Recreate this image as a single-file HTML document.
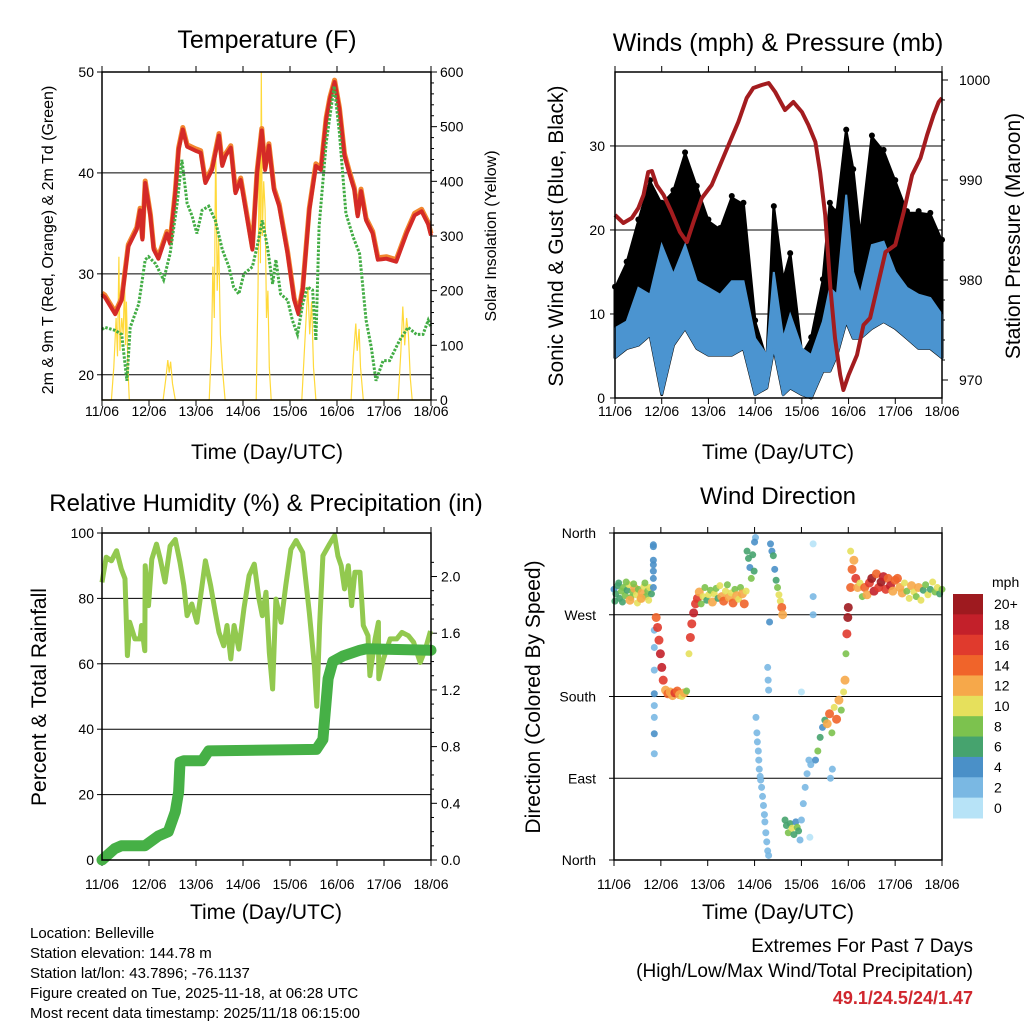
<!DOCTYPE html>
<html><head><meta charset="utf-8"><style>
body{margin:0;background:#fff;}
svg{display:block;font-family:"Liberation Sans",Arial,sans-serif;}
</style></head><body>
<svg id="c" width="1024" height="1024" viewBox="0 0 1024 1024" xmlns="http://www.w3.org/2000/svg">
<rect width="1024" height="1024" fill="#fff"/>
<g id="g1"></g>
<g id="g2"></g>
<g id="g3"></g>
<g id="g4"></g>
<g id="gt" font-size="15" fill="#000">
<text x="30" y="938">Location: Belleville</text>
<text x="30" y="958">Station elevation: 144.78 m</text>
<text x="30" y="978">Station lat/lon: 43.7896; -76.1137</text>
<text x="30" y="998">Figure created on Tue, 2025-11-18, at 06:28 UTC</text>
<text x="30" y="1018">Most recent data timestamp: 2025/11/18 06:15:00</text>
<text x="973" y="952" text-anchor="end" font-size="19">Extremes For Past 7 Days</text>
<text x="973" y="977" text-anchor="end" font-size="19">(High/Low/Max Wind/Total Precipitation)</text>
<text x="973" y="1004" text-anchor="end" font-size="18" font-weight="bold" fill="#d0272e">49.1/24.5/24/1.47</text>
</g>
</svg>
<script>
// ---- data (time in days since 11/06 00 UTC) ----
const dayLabels=["11/06","12/06","13/06","14/06","15/06","16/06","17/06","18/06"];
const tempT=[0,.06,.28,.42,.56,.74,.81,.86,.92,1.03,1.10,1.20,1.38,1.45,1.56,1.63,1.72,1.81,1.99,2.1,2.2,2.34,2.49,2.56,2.63,2.74,2.84,2.95,3.06,3.2,3.3,3.4,3.47,3.55,3.66,3.77,3.95,4.09,4.18,4.27,4.41,4.55,4.66,4.77,4.85,4.95,5.05,5.16,5.26,5.37,5.44,5.51,5.62,5.76,5.87,6.05,6.26,6.48,6.65,6.8,6.94,7.0];
const tempV=[27.9,27.7,26.0,27.4,32.7,34.4,36.3,33.4,39.0,35.7,32.4,31.5,34,33,38,42.3,44.3,42.6,42.2,42,39,40.3,43.7,40.7,41.7,42.5,38,39.3,36.3,32.4,40,44.2,40.3,42.7,38.3,36.7,32,27.4,26,28.4,36.3,40.7,40.3,45.3,47.3,49,46.3,41.7,40,38.3,35.7,38.2,35.3,34,31.4,31.5,31.2,34,35.8,36.2,34.9,33.8];
const dewT=[0,.06,.28,.42,.53,.6,.78,.92,.99,1.14,1.31,1.45,1.6,1.7,1.81,1.92,2.02,2.13,2.27,2.41,2.56,2.7,2.8,2.91,3.02,3.2,3.3,3.41,3.52,3.63,3.7,3.8,3.95,4.05,4.16,4.27,4.37,4.48,4.55,4.62,4.77,4.94,5.05,5.19,5.34,5.48,5.62,5.73,5.83,5.98,6.12,6.33,6.51,6.69,6.83,6.94,7.0];
const dewV=[24.5,24.7,24.4,24,19.4,24.7,27,31.4,31.7,31,29.4,32,37,41.3,37,35.7,34,36.3,36.7,35.3,32.4,30.7,28.7,28,30,30.7,32.7,35.3,32.7,29,31.4,28,27.4,25.4,24,27,28.7,28.4,23.4,34.7,43,48.6,44,36,33.7,32,25.4,22.7,19.4,21.4,21.4,23.4,24.7,24,24,25.4,24.7];
const solarT=[0,.2,.25,.3,.33,.36,.38,.42,.45,.48,.5,.52,.55,.58,1.3,1.36,1.4,1.43,1.46,1.5,1.56,2.28,2.33,2.36,2.39,2.42,2.45,2.48,2.52,2.56,2.62,3.28,3.32,3.35,3.37,3.39,3.41,3.44,3.47,3.5,3.53,3.56,3.6,4.25,4.3,4.35,4.38,4.42,4.46,4.5,4.55,5.3,5.35,5.4,5.43,5.47,5.5,5.56,6.3,6.36,6.4,6.44,6.48,6.52,6.56,6.6,7];
const solarV=[0,0,60,150,80,262,90,150,120,220,100,180,60,0,0,40,73,50,70,30,0,0,100,244,150,476,200,300,120,60,0,0,200,488,250,600,300,400,348,150,200,60,0,0,80,160,207,120,180,60,0,0,80,140,90,130,60,0,0,90,171,100,150,120,40,0,0];
const presT=[0,.18,.36,.5,.61,.71,.79,.89,1.04,1.21,1.39,1.54,1.68,1.86,2.07,2.25,2.43,2.64,2.82,2.96,3.14,3.29,3.43,3.64,3.82,4.0,4.14,4.29,4.39,4.5,4.61,4.71,4.82,4.89,5.0,5.18,5.32,5.46,5.61,5.79,6.0,6.18,6.36,6.54,6.68,6.82,6.93,7.0];
const presV=[986.5,985.7,986.2,987.2,988.5,990.8,990.9,989.5,988.5,986.8,984.8,983.8,985.8,988.2,989.5,991.5,993.5,995.8,998.2,999.2,999.5,999.7,998.8,997,997.8,996.8,995.5,993.8,990.8,986.5,979.2,974.2,970.5,969,970.5,972.5,975.5,976.2,979.2,982.8,983.5,986.8,990.5,992.2,994.5,996.5,997.8,998.2];
const windT=[0,.25,.5,.75,1.0,1.25,1.5,1.75,2.0,2.25,2.5,2.75,3.0,3.25,3.4,3.6,3.75,4.0,4.2,4.45,4.6,4.75,4.95,5.1,5.25,5.5,5.75,6.0,6.25,6.5,6.75,7.0];
const windLo=[4.8,5.9,6.3,7.5,0.4,6.3,8.3,5.9,5.1,5.1,5.1,5.9,0.4,1.2,5.9,0.4,1.2,0.4,0,3.2,3.2,5.1,9.1,7.1,7.1,8.3,9.1,8.3,7.1,5.9,5.9,4.8];
const windHi=[8.3,9.1,13.1,12.3,18.2,14.7,18.2,13.9,13.1,12.3,13.9,13.9,7.1,5.1,15,7.1,9.9,5.9,5.1,9.1,13.1,12.3,24.2,15,12.3,18.2,18.6,15,13.1,12.3,11.9,9.9];
const gustHi=[13,16,21,25.7,23,24.5,29,25,21,20,23.8,23,9,4.4,22.6,13.9,17,5.1,7,13.9,23,22,31.7,27,19,31,29.3,25.7,22,22,21.8,18.6];
const rhT=[0,.09,.2,.31,.41,.49,.54,.59,.7,.81,.84,.91,.92,.99,1.06,1.16,1.24,1.34,1.45,1.56,1.66,1.74,1.81,1.91,2.02,2.09,2.2,2.31,2.41,2.49,2.59,2.66,2.74,2.81,2.91,3.02,3.13,3.24,3.34,3.41,3.49,3.56,3.63,3.7,3.81,3.91,4.02,4.13,4.27,4.41,4.52,4.57,4.63,4.7,4.84,4.95,5.02,5.09,5.16,5.24,5.31,5.38,5.49,5.56,5.66,5.7,5.81,5.88,5.89,5.99,6.13,6.27,6.38,6.52,6.63,6.77,6.88,6.99];
const rhV=[84.9,92.6,91.5,94.6,89,86,62.5,72.7,67.6,67.6,71.7,64,90,77.8,92,96.6,92,85,96,98,91,84,74.7,78.3,72.7,79.8,91.5,84,75.7,69.6,65.5,71.7,61.5,71.7,64.5,76.8,87,90.5,79.8,74.7,81.9,63.5,52.3,79.8,72.7,84,95,97.7,94,75.7,59.4,47,71.7,93,96.6,99.2,93,90,82.9,90,77.8,88,88,71.7,68.6,56.4,67.6,72.7,55.4,61.5,67.6,67.6,69.6,68.6,66.6,60.4,64.5,70];
const rainT=[0,.27,.41,.91,1.2,1.41,1.56,1.63,1.66,1.74,2.13,2.27,4.56,4.7,4.81,4.91,5.13,5.49,5.63,7.0];
const rainV=[0,.08,.1,.1,.17,.2,.34,.48,.69,.7,.7,.77,.78,.85,1.28,1.40,1.44,1.48,1.49,1.48];
const dirT=[0,.04,.08,.12,.16,.2,.24,.28,.32,.36,.4,.44,.48,.52,.56,.6,.64,.68,.72,.76,.8,
.02,.1,.18,.26,.34,.42,.5,.58,.66,.74,
.84,.84,.84,.84,.84,.84,.84,.86,.86,.86,.86,.86,.86,.86,.86,
.9,.93,.96,.99,1.02,1.05,
1.1,1.15,1.2,1.25,1.3,1.35,1.4,1.45,1.5,1.55,
1.6,1.63,1.66,1.7,1.74,
1.78,1.82,1.86,1.9,1.94,1.98,2.02,2.06,2.1,2.14,2.18,2.22,2.26,2.3,2.34,2.38,2.42,2.46,2.5,2.54,2.58,2.62,2.66,2.7,2.74,2.78,2.82,
2.84,2.87,2.9,2.93,2.96,2.99,3.02,3.0,
3.03,3.05,3.06,3.08,3.09,3.1,3.12,3.13,3.15,3.17,3.19,3.21,3.22,3.24,3.26,3.28,3.3,
3.28,3.29,3.3,3.32,
3.34,3.37,3.4,3.43,3.46,3.49,3.52,3.55,3.58,3.6,
3.65,3.68,3.72,3.76,3.8,3.84,3.88,3.91,3.94,
3.97,4.0,4.04,4.08,4.12,4.16,4.2,
4.25,4.25,4.25,4.0,4.18,
4.3,4.35,4.4,4.45,4.5,4.55,4.6,4.65,4.7,4.75,4.8,4.85,4.9,4.62,4.66,
4.93,4.95,4.97,4.99,5.0,
5.05,5.08,5.12,5.16,5.2,5.25,5.3,5.05,
5.35,5.4,5.45,5.5,5.55,5.6,5.65,5.7,5.75,5.8,5.85,5.9,5.95,6.0,
6.05,6.1,6.15,6.2,6.25,6.3,6.35,6.4,6.45,6.5,6.55,6.6,6.65,6.7,6.75,6.8,6.85,6.9,6.95,7.0];
const dirD=[298,293,302,288,296,300,291,297,303,289,295,299,292,298,287,294,301,290,296,300,293,
285,305,284,306,286,304,283,288,305,286,
347,345,330,325,318,310,300,253,234,209,183,170,157,139,117,
267,256,242,227,212,198,
187,183,185,181,184,186,182,180,184,186,
227,245,260,272,282,
288,295,282,290,300,286,292,297,284,293,299,288,302,290,285,296,303,289,294,283,298,291,287,300,293,282,296,
340,332,322,310,336,318,355,350,
157,140,130,120,110,100,92,88,80,70,60,50,42,30,20,10,5,
212,198,187,262,
348,340,335,320,308,300,292,285,278,270,
44,38,30,40,35,28,42,36,32,
22,44,62,80,95,110,105,
348,290,270,185,25,
110,120,135,146,154,150,161,140,168,155,176,165,185,90,100,
198,227,249,267,278,
300,320,330,310,300,305,290,340,
300,292,305,310,296,315,300,306,312,298,310,302,296,308,
310,300,294,305,296,288,302,295,290,300,286,297,303,292,298,306,295,300,293,298];
const dirS=[4,6,7,6,8,9,8,7,10,8,9,12,10,8,11,12,10,9,8,10,6,
6,7,6,8,12,9,10,12,8,10,
4,4,4,4,4,4,4,2,3,2,4,2,3,4,3,
14,16,16,18,18,16,
12,14,13,12,16,14,12,11,12,8,
10,16,16,18,16,
16,12,8,10,8,6,10,8,12,10,8,6,10,12,14,10,8,12,10,14,8,12,10,8,12,14,10,
6,6,4,8,6,6,2,4,
2,2,3,2,2,2,3,2,2,2,3,2,2,2,3,2,2,
2,2,2,4,
4,4,6,4,6,8,10,10,14,12,
6,7,8,6,10,6,4,8,7,
2,2,3,2,2,3,2,
1,2,2,1,0,
4,8,6,4,6,12,14,8,10,14,12,8,10,3,2,
12,8,16,20,20,
14,14,12,16,12,10,8,10,
14,12,16,20,18,14,16,20,18,16,14,18,12,14,
14,12,12,10,8,10,12,10,8,12,10,6,8,10,6,10,8,10,6,8];
const speedLabels=["0","2","4","6","8","10","12","14","16","18","20+"];
const speedColors=["#b7e3f7","#7ab8e3","#4a90c8","#46a36e","#7cc24e","#e6e05c","#f6a84a","#f0642a","#e03a2d","#c3202a","#9e1a1f"];

const NS="http://www.w3.org/2000/svg";
function mk(parent,tag,attrs,txt){const e=document.createElementNS(NS,tag);for(const k in attrs)e.setAttribute(k,attrs[k]);if(txt!==undefined)e.textContent=txt;parent.appendChild(e);return e;}
function lin(d0,d1,r0,r1){return v=>r0+(v-d0)/(d1-d0)*(r1-r0);}
function pathD(xs,ys,fx,fy){return xs.map((t,i)=>(i?'L':'M')+fx(t).toFixed(1)+','+fy(ys[i]).toFixed(1)).join('');}

function frame(g,x0,x1,y0,y1,name){
  const r=mk(g,'rect',{x:x0,y:y0,width:x1-x0,height:y1-y0,fill:'none',stroke:'#000','stroke-width':1.5});
  
  
}
function xAxis(g,x0,x1,y0,y1,name,off){
  const fx=lin(0,7,x0,x1);
  dayLabels.forEach((l,i)=>{
    const x=fx(i);
    mk(g,'line',{x1:x,x2:x,y1:y1,y2:y1+6,stroke:'#000','stroke-width':1});
    mk(g,'line',{x1:x,x2:x,y1:y0,y2:y0-6,stroke:'#000','stroke-width':1});
    const t=mk(g,'text',{x:x,y:y1+off,'text-anchor':'middle','font-size':14},l);
    
    
  });
  return fx;
}
function hgrid(g,x0,x1,y){mk(g,'line',{x1:x0,x2:x1,y1:y,y2:y,stroke:'#000','stroke-width':1});}
function title(g,x,y,txt,size,name,rot){
  const a={x:x,y:y,'text-anchor':'middle','font-size':size};
  if(rot)a.transform='rotate(-90 '+x+' '+y+')';
  const t=mk(g,'text',a,txt);
  
  
}

// ===== Panel 1: Temperature =====
(function(){
  const g=document.getElementById('g1');
  const x0=102,x1=431,y0=72,y1=400;
  const fy=lin(17.5,50,y1,y0), fs=lin(0,600,y1,y0);
  const fx=xAxis(g,x0,x1,y0,y1,'temp',16);
  [20,30,40].forEach(v=>hgrid(g,x0,x1,fy(v)));
  [20,30,40,50].forEach(v=>{mk(g,'line',{x1:x0-5,x2:x0,y1:fy(v),y2:fy(v),stroke:'#000'});
    const t=mk(g,'text',{x:x0-8,y:fy(v)+5,'text-anchor':'end','font-size':14},v);
    
    });
  for(let v=0;v<=600;v+=20){const y=fs(v);mk(g,'line',{x1:x1,x2:x1+(v%100?3:6),y1:y,y2:y,stroke:'#000'});}
  [0,100,200,300,400,500,600].forEach(v=>{const t=mk(g,'text',{x:x1+9,y:fs(v)+5,'font-size':14},v);
    
    });
  const s=mk(g,'path',{d:pathD(solarT,solarV,fx,fs),fill:'none',stroke:'#ffd93a','stroke-width':1.2});
  
  
  const o=mk(g,'path',{d:pathD(tempT,tempV.map(v=>v+0.2),fx,fy),fill:'none',stroke:'#f2862f','stroke-width':5,'stroke-linejoin':'round'});
  
  
  const r=mk(g,'path',{d:pathD(tempT,tempV,fx,fy),fill:'none',stroke:'#d42a27','stroke-width':4,'stroke-linejoin':'round'});
  
  
  const d=mk(g,'path',{d:pathD(dewT,dewV,fx,fy),fill:'none',stroke:'#43ad45','stroke-width':3,'stroke-dasharray':'2.5 1.5'});
  
  
  frame(g,x0,x1,y0,y1,'temp');
  title(g,267,48,'Temperature (F)',25,'temp-title');
  title(g,267,459,'Time (Day/UTC)',21,'temp-x-title');
  title(g,53,240,'2m & 9m T (Red, Orange) & 2m Td (Green)',16,'temp-y-title',true);
  title(g,496,236,'Solar Insolation (Yellow)',16,'solar-y-title',true);
})();

// ===== Panel 2: Winds & Pressure =====
(function(){
  const g=document.getElementById('g2');
  const x0=615,x1=942,y0=72,y1=398;
  const fy=lin(0,38.8,y1,y0), fp=lin(968.2,1000.8,y1,y0);
  const fx=xAxis(g,x0,x1,y0,y1,'wind',18);
  [10,20,30].forEach(v=>hgrid(g,x0,x1,fy(v)));
  [0,10,20,30].forEach(v=>{mk(g,'line',{x1:x0-5,x2:x0,y1:fy(v),y2:fy(v),stroke:'#000'});
    const t=mk(g,'text',{x:x0-10,y:fy(v)+5,'text-anchor':'end','font-size':14},v);
    
    });
  for(let v=970;v<=1000;v+=2){const y=fp(v);mk(g,'line',{x1:x1,x2:x1+(v%10?3:6),y1:y,y2:y,stroke:'#000'});}
  [970,980,990,1000].forEach(v=>{const t=mk(g,'text',{x:x1+17,y:fp(v)+5,'font-size':14},v);
    
    });
  const up=windT.map((t,i)=>fx(t).toFixed(1)+','+fy(gustHi[i]).toFixed(1));
  const dn=windT.map((t,i)=>fx(t).toFixed(1)+','+fy(windLo[i]).toFixed(1)).reverse();
  const gb=mk(g,'polygon',{points:up.concat(dn).join(' '),fill:'#000','stroke':'#000','stroke-width':3,'stroke-linejoin':'round'});
  
  
  windT.forEach((t,i)=>{const c=mk(g,'circle',{cx:fx(t),cy:fy(gustHi[i])-2,r:3,fill:'#000'});
    
    });
  const wu=windT.map((t,i)=>fx(t).toFixed(1)+','+fy(windHi[i]).toFixed(1));
  const wd=windT.map((t,i)=>fx(t).toFixed(1)+','+fy(windLo[i]).toFixed(1)).reverse();
  const wb=mk(g,'polygon',{points:wu.concat(wd).join(' '),fill:'#4b94d0',stroke:'#4b94d0','stroke-width':2});
  
  
  const p=mk(g,'path',{d:pathD(presT,presV,fx,fp),fill:'none',stroke:'#a31c1f','stroke-width':4,'stroke-linejoin':'round'});
  
  
  frame(g,x0,x1,y0,y1,'wind');
  title(g,778,51,'Winds (mph) & Pressure (mb)',25,'wind-title');
  title(g,778,459,'Time (Day/UTC)',21,'wind-x-title');
  title(g,563,236,'Sonic Wind & Gust (Blue, Black)',21,'wind-y-title',true);
  title(g,1020,236,'Station Pressure (Maroon)',21,'pressure-y-title',true);
})();

// ===== Panel 3: RH & Precip =====
(function(){
  const g=document.getElementById('g3');
  const x0=102,x1=431,y0=533,y1=860;
  const fy=lin(0,100,y1,y0), fr=lin(0,2.3,y1,y0+1);
  const fx=xAxis(g,x0,x1,y0,y1,'rh',29);
  [20,40,60,80].forEach(v=>hgrid(g,x0,x1,fy(v)));
  [0,20,40,60,80,100].forEach(v=>{mk(g,'line',{x1:x0-5,x2:x0,y1:fy(v),y2:fy(v),stroke:'#000'});
    const t=mk(g,'text',{x:x0-8,y:fy(v)+5,'text-anchor':'end','font-size':14},v);
    
    });
  for(let v=0;v<=2.2;v+=0.1){const y=fr(v);mk(g,'line',{x1:x1,x2:x1+(Math.round(v*10)%4?3:6),y1:y,y2:y,stroke:'#000'});}
  [0,0.4,0.8,1.2,1.6,2.0].forEach(v=>{const t=mk(g,'text',{x:x1+10,y:fr(v)+5,'font-size':14},v.toFixed(1));
    
    });
  const h=mk(g,'path',{d:pathD(rhT,rhV,fx,fy),fill:'none',stroke:'#92c94f','stroke-width':5,'stroke-linejoin':'round'});
  
  
  const r=mk(g,'path',{d:pathD(rainT,rainV,fx,fr),fill:'none',stroke:'#46b046','stroke-width':11,'stroke-linejoin':'round','stroke-linecap':'round'});
  
  
  frame(g,x0,x1,y0,y1,'rh');
  title(g,266,511,'Relative Humidity (%) & Precipitation (in)',24,'rh-title');
  title(g,266,919,'Time (Day/UTC)',21,'rh-x-title');
  title(g,46,697,'Percent & Total Rainfall',21,'rh-y-title',true);
})();

// ===== Panel 4: Wind direction =====
(function(){
  const g=document.getElementById('g4');
  const x0=614,x1=942,y0=533,y1=860;
  const fy=lin(0,360,y1,y0);
  const fx=xAxis(g,x0,x1,y0,y1,'dir',29);
  [90,180,270].forEach(v=>hgrid(g,x0,x1,fy(v)));
  const lab=["North","East","South","West","North"];
  lab.forEach((l,i)=>{const y=fy(i*90);mk(g,'line',{x1:x0-5,x2:x0,y1:y,y2:y,stroke:'#000'});
    const t=mk(g,'text',{x:x0-18,y:y+5,'text-anchor':'end','font-size':14},l);
    
    });
  dirT.forEach((t,i)=>{const k=Math.max(0,Math.min(10,Math.floor(dirS[i]/2)));
    const c=mk(g,'circle',{cx:fx(t),cy:fy(dirD[i]),r:k>=6?4.5:3.5,fill:speedColors[k],'fill-opacity':0.9});
    
    });
  frame(g,x0,x1,y0,y1,'dir');
  title(g,778,504,'Wind Direction',24,'dir-title');
  title(g,778,919,'Time (Day/UTC)',21,'dir-x-title');
  title(g,540,697,'Direction (Colored By Speed)',21,'dir-y-title',true);
  const cb=mk(g,'g',{});
  
  
  const bx=953,bw=30,by0=594,bh=(818-594)/11;
  for(let i=0;i<11;i++){const idx=10-i;
    const r=mk(cb,'rect',{x:bx,y:by0+i*bh,width:bw,height:bh+0.5,fill:speedColors[idx]});
    
    
    const t=mk(cb,'text',{x:994,y:by0+i*bh+bh/2+5,'font-size':14},speedLabels[idx]);
    
    }
  const m=mk(cb,'text',{x:992,y:587,'font-size':14},'mph');
  
  
})();
</script>
</body></html>
